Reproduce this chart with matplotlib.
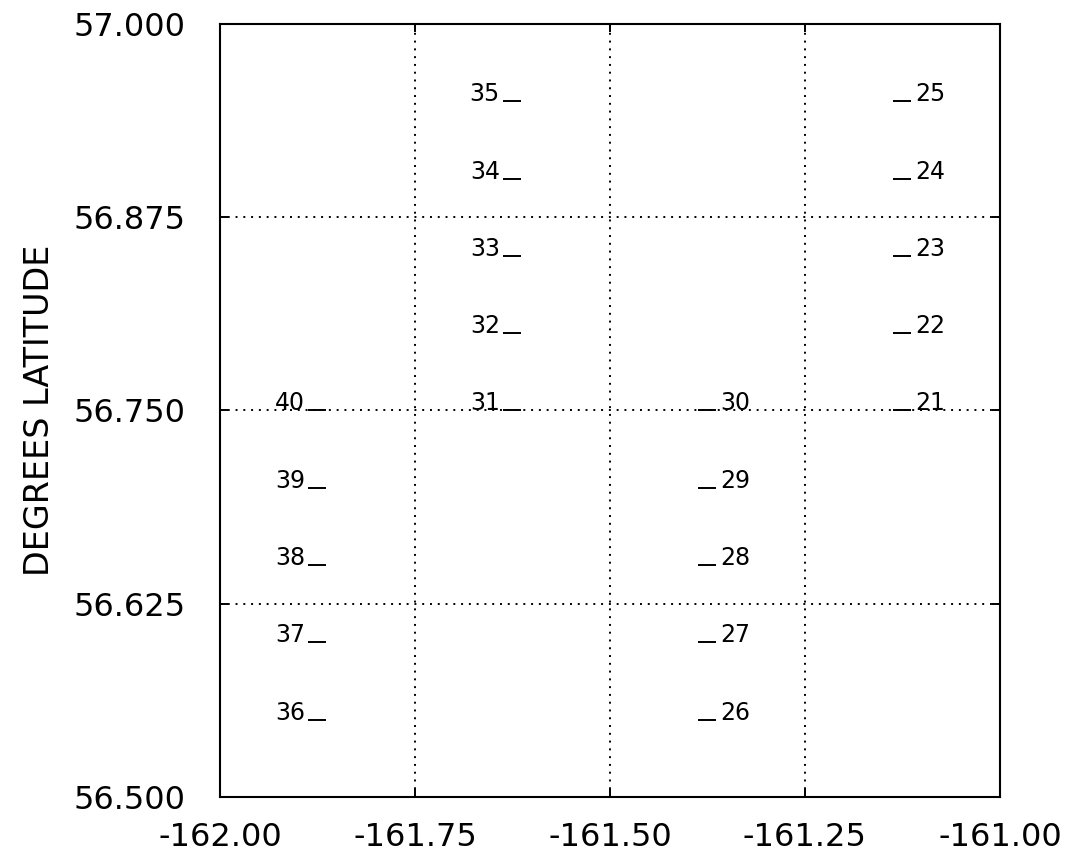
import matplotlib
matplotlib.use("Agg")
import matplotlib.pyplot as plt

# station numbers and positions (degrees)
station_ids = list(range(21, 41))
station_lon = [-161.125] * 5 + [-161.375] * 5 + [-161.625] * 5 + [-161.875] * 5
station_lat = [56.75, 56.80, 56.85, 56.90, 56.95,
               56.55, 56.60, 56.65, 56.70, 56.75,
               56.75, 56.80, 56.85, 56.90, 56.95,
               56.55, 56.60, 56.65, 56.70, 56.75]

xticks = [-162.00, -161.75, -161.50, -161.25, -161.00]
xtick_labels = ["-162.00", "-161.75", "-161.50", "-161.25", "-161.00"]
yticks = [56.500, 56.625, 56.750, 56.875, 57.000]
ytick_labels = ["56.500", "56.625", "56.750", "56.875", "57.000"]

plt.rcParams["font.family"] = ["DejaVu Sans"]

fig = plt.figure(figsize=(10.74, 8.68), dpi=100)
ax = fig.add_axes([0.2048, 0.0818, 0.7262, 0.8906])

ax.set_xlim(-162.0, -161.0)
ax.set_ylim(56.5, 57.0)

# stations as short horizontal ticks
ax.plot(station_lon, station_lat, linestyle="none", marker="_",
        markersize=13, markeredgewidth=1.4, color="black")

for sid, lon, lat in zip(station_ids, station_lon, station_lat):
    if lon > -161.5:
        ax.annotate(str(sid), (lon, lat), xytext=(9, 0), textcoords="offset points",
                    ha="left", va="baseline", fontsize=17)
    else:
        ax.annotate(str(sid), (lon, lat), xytext=(-9, 0), textcoords="offset points",
                    ha="right", va="baseline", fontsize=17)

ax.set_xticks(xticks)
ax.set_xticklabels(xtick_labels)
ax.set_yticks(yticks)
ax.set_yticklabels(ytick_labels)
ax.tick_params(direction="in", length=6, width=1.4, top=True, right=True,
               labelsize=23)
ax.tick_params(axis="x", pad=18)
ax.tick_params(axis="y", pad=25)

ax.grid(True, color="black", linestyle=(0, (1, 3)), linewidth=1.4)
for s in ax.spines.values():
    s.set_linewidth(1.5)

ax.set_ylabel("DEGREES LATITUDE", fontsize=24, labelpad=12)

fig.savefig("out.png", dpi=100)
